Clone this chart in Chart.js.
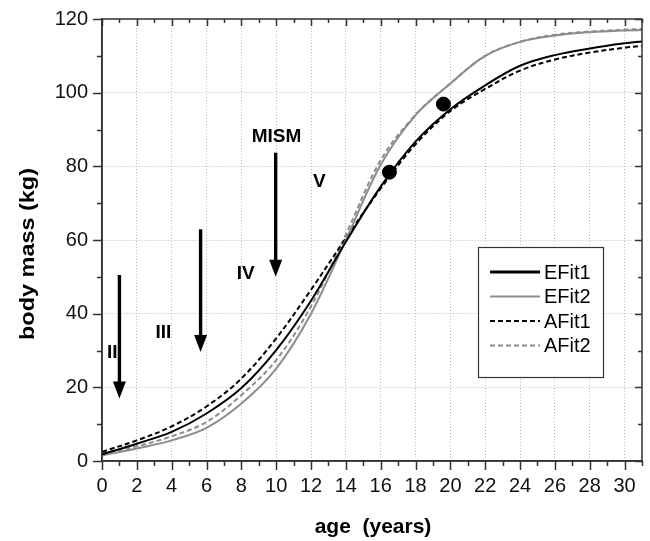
<!DOCTYPE html>
<html>
<head>
<meta charset="utf-8">
<script src="https://cdn.jsdelivr.net/npm/chart.js@4.4.0/dist/chart.umd.min.js"></script>
<style>
  html, body { margin: 0; padding: 0; background: #fff; }
  #wrap { width: 650px; height: 541px; }
</style>
</head>
<body>
<div id="wrap"><canvas id="growthChart" width="650" height="541"></canvas></div>
<script>
// ages (years) and body mass (kg) of the four fits
const ages  = [0, 2, 4, 6, 8, 10, 12, 14, 16, 18, 20, 22, 24, 26, 28, 30, 31]
const eFit1 = [1.8, 4.7, 7.9, 12.9, 19.8, 30.1, 43.5, 59.5, 74.5, 86.7, 95.5, 102.0, 107.3, 110.2, 112.0, 113.4, 113.9]
const eFit2 = [1.5, 3.4, 5.6, 9.0, 15.6, 25.1, 40.0, 60.0, 80.4, 93.9, 102.5, 110.0, 113.8, 115.5, 116.4, 116.9, 117.0]
const aFit1 = [2.5, 5.6, 9.4, 14.8, 22.4, 33.3, 46.5, 60.5, 74.0, 86.0, 95.0, 101.0, 106.0, 109.0, 110.9, 112.2, 112.7]
const aFit2 = [2.0, 4.0, 6.7, 10.6, 17.9, 27.4, 42.0, 61.5, 81.7, 94.0, 102.5, 110.0, 113.8, 115.7, 116.6, 117.1, 117.3]

// measured individuals
const pointAges = [16.5, 19.6]
const pointMass = [78.4, 96.9]

// stage labels and arrows
const stageLabels = ['II', 'III', 'IV', 'V', 'MISM']
const stageAges   = [0.59, 3.52, 8.25, 12.47, 10.02]
const stageMass   = [29.5, 34.8, 50.7, 75.9, 88.0]
const arrowAges = [1.0, 5.66, 9.97]
const arrowFrom = [50.5, 62.9, 83.7]
const arrowTo   = [17.0, 29.6, 50.0]

const xTicks = [0, 2, 4, 6, 8, 10, 12, 14, 16, 18, 20, 22, 24, 26, 28, 30]
const yTicks = [0, 20, 40, 60, 80, 100, 120]

const GRAY = '#8c8c8c'
const FONT = 'Liberation Sans, Arial, sans-serif'

const toPoints = (vals) => ages.map((a, i) => ({x: a, y: vals[i]}))

const decorations = {
    id: 'decorations',
    afterDatasetsDraw(chart) {
        const {ctx, chartArea: a, scales: {x, y}} = chart
        ctx.save()

        // frame
        ctx.strokeStyle = '#333'
        ctx.lineWidth = 1.5
        ctx.strokeRect(a.left, a.top, a.right - a.left, a.bottom - a.top)

        // ticks: bottom/left outward, top/right inward
        ctx.beginPath()
        for (let v = 0; v <= 31; v++) {
            const px = Math.round(x.getPixelForValue(v)) + 0.5
            const major = v % 2 === 0
            ctx.moveTo(px, a.bottom); ctx.lineTo(px, a.bottom + (major ? 9 : 5))
            ctx.moveTo(px, a.top); ctx.lineTo(px, a.top + (major ? 7 : 4))
        }
        for (let v = 0; v <= 120; v += 10) {
            const py = Math.round(y.getPixelForValue(v)) + 0.5
            const major = v % 20 === 0
            ctx.moveTo(a.left, py); ctx.lineTo(a.left - (major ? 9 : 5), py)
            ctx.moveTo(a.right, py); ctx.lineTo(a.right - (major ? 7 : 4), py)
        }
        ctx.stroke()

        // arrows
        ctx.fillStyle = '#000'
        ctx.strokeStyle = '#000'
        arrowAges.forEach((age, i) => {
            const px = x.getPixelForValue(age)
            const top = y.getPixelForValue(arrowFrom[i])
            const tip = y.getPixelForValue(arrowTo[i])
            ctx.lineWidth = 3.4
            ctx.beginPath()
            ctx.moveTo(px, top); ctx.lineTo(px, tip - 14)
            ctx.stroke()
            ctx.beginPath()
            ctx.moveTo(px - 6.5, tip - 17)
            ctx.lineTo(px + 6.5, tip - 17)
            ctx.lineTo(px, tip)
            ctx.closePath()
            ctx.fill()
        })

        // stage labels
        ctx.font = 'bold 19px ' + FONT
        ctx.textAlign = 'center'
        ctx.textBaseline = 'middle'
        stageLabels.forEach((t, i) => {
            ctx.fillText(t, x.getPixelForValue(stageAges[i]), y.getPixelForValue(stageMass[i]))
        })

        // legend
        const lx = 478, ly = 247, lw = 125, lh = 130
        ctx.fillStyle = '#fff'
        ctx.fillRect(lx, ly, lw, lh)
        ctx.strokeStyle = '#333'
        ctx.lineWidth = 1.2
        ctx.strokeRect(lx + 0.5, ly + 0.5, lw, lh)
        ctx.font = '20px ' + FONT
        ctx.textAlign = 'left'
        chart.data.datasets.slice(0, 4).forEach((ds, i) => {
            const ry = ly + 25 + i * 24.5
            ctx.strokeStyle = ds.borderColor
            ctx.lineWidth = i === 0 ? 3 : ds.borderWidth
            ctx.setLineDash(ds.borderDash || [])
            ctx.beginPath()
            ctx.moveTo(lx + 12, ry); ctx.lineTo(lx + 62, ry)
            ctx.stroke()
            ctx.setLineDash([])
            ctx.fillStyle = '#000'
            ctx.fillText(ds.label, lx + 66, ry + 1)
        })

        // axis titles
        ctx.font = 'bold 21px ' + FONT
        ctx.textAlign = 'center'
        ctx.fillText('age  (years)', 373, 527)
        const yTitle = 'body mass (kg)'
        const stretch = 172 / ctx.measureText(yTitle).width
        ctx.save()
        ctx.translate(28, 254)
        ctx.rotate(-Math.PI / 2)
        ctx.scale(stretch, 1)
        ctx.fillText(yTitle, 0, 0)
        ctx.restore()

        ctx.restore()
    }
}

const lineStyle = (label, vals, color, dash) => ({
    label: label,
    data: toPoints(vals),
    borderColor: color,
    backgroundColor: color,
    borderWidth: 2,
    borderDash: dash,
    pointRadius: 0,
    fill: false,
    tension: 0.35
})

new Chart(document.getElementById('growthChart'), {
    type: 'line',
    data: {
        datasets: [
            lineStyle('EFit1', eFit1, '#000', []),
            lineStyle('EFit2', eFit2, GRAY, []),
            lineStyle('AFit1', aFit1, '#000', [5, 3]),
            lineStyle('AFit2', aFit2, GRAY, [5, 3]),
            {
                label: 'data',
                data: pointAges.map((a, i) => ({x: a, y: pointMass[i]})),
                showLine: false,
                pointRadius: 7,
                pointHoverRadius: 7,
                backgroundColor: '#000',
                borderColor: '#000'
            }
        ]
    },
    options: {
        responsive: false,
        animation: false,
        layout: {padding: {top: 19, right: 5, left: 0, bottom: 0}},
        plugins: {legend: {display: false}, tooltip: {enabled: false}},
        scales: {
            x: {
                type: 'linear',
                min: 0,
                max: 31,
                afterBuildTicks: s => { s.ticks = xTicks.map(v => ({value: v})) },
                afterFit: s => { s.height = 80; s.paddingLeft = 0; s.paddingRight = 0 },
                grid: {color: '#bdbdbd', drawTicks: false},
                border: {display: true, color: '#333', width: 1.5, dash: [1, 2]},
                ticks: {color: '#111', padding: 13, maxRotation: 0, font: {family: FONT, size: 20}}
            },
            y: {
                min: 0,
                max: 120,
                afterBuildTicks: s => { s.ticks = yTicks.map(v => ({value: v})) },
                afterFit: s => { s.width = 102; s.paddingTop = 0; s.paddingBottom = 0 },
                grid: {color: '#bdbdbd', drawTicks: false},
                border: {display: true, color: '#333', width: 1.5, dash: [1, 2]},
                ticks: {color: '#111', padding: 14, font: {family: FONT, size: 20}}
            }
        }
    },
    plugins: [decorations]
})
</script>
</body>
</html>
